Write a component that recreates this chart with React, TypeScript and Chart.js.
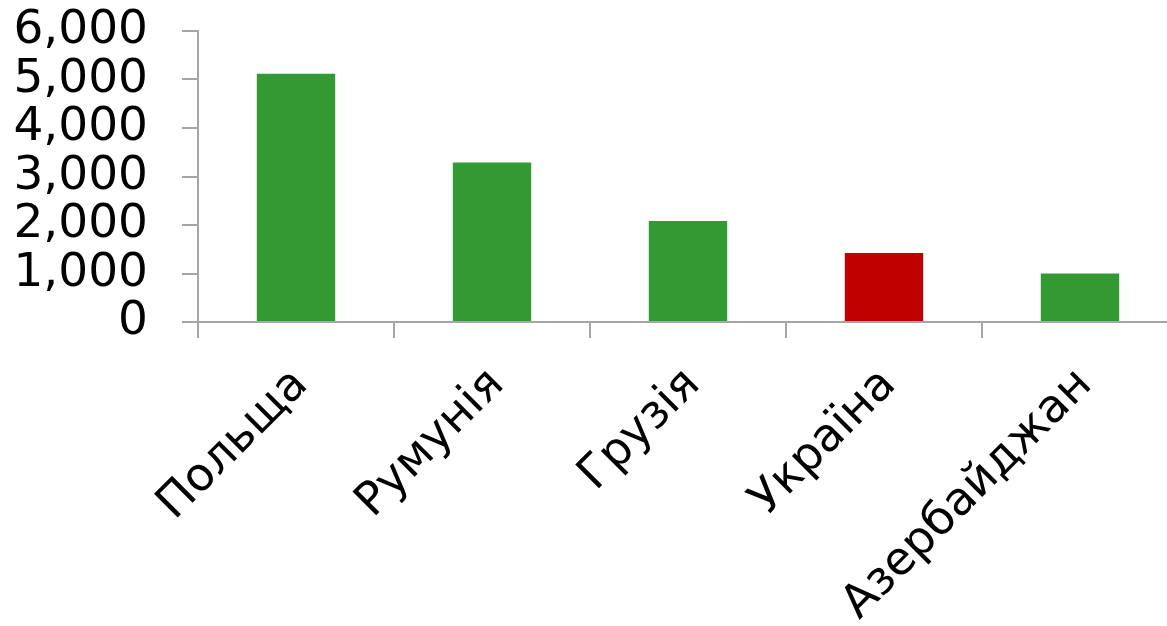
import React, { useEffect, useRef } from "react";
import { Chart, registerables } from "chart.js";

Chart.register(...registerables);

const categories = ["Польща", "Румунія", "Грузія", "Україна", "Азербайджан"];
const values = [5120, 3290, 2080, 1425, 1000];
const barColors = ["#339933", "#339933", "#339933", "#C00000", "#339933"];
const yTicks = [0, 1000, 2000, 3000, 4000, 5000, 6000];

export default function App() {
  const ref = useRef<HTMLCanvasElement | null>(null);

  useEffect(() => {
    if (!ref.current) return;
    const axisColor = "#a6a6a6";
    const chart = new Chart(ref.current, {
      type: "bar",
      data: {
        labels: categories,
        datasets: [
          {
            data: values,
            backgroundColor: barColors,
            borderWidth: 0,
            barPercentage: 0.8,
            categoryPercentage: 0.5,
          },
        ],
      },
      options: {
        animation: false,
        responsive: false,
        devicePixelRatio: 1,
        layout: { padding: { top: 0, right: 2, left: 0, bottom: 0 } },
        plugins: { legend: { display: false }, tooltip: { enabled: false } },
        scales: {
          x: {
            offset: true,
            grid: {
              display: true,
              drawOnChartArea: false,
              offset: true,
              tickLength: 16,
              color: axisColor,
              lineWidth: 2,
            },
            border: { display: true, color: axisColor, width: 2 },
            ticks: {
              color: "#000",
              font: { family: "DejaVu Sans", size: 46 },
              maxRotation: 45,
              minRotation: 45,
              padding: 20,
              labelOffset: 5,
              autoSkip: false,
            },
            afterFit: (scale: any) => {
              scale.height = 304;
              scale.paddingLeft = 0;
              scale.paddingRight = 0;
            },
          },
          y: {
            min: 0,
            max: 6000,
            afterBuildTicks: (scale: any) => {
              scale.ticks = yTicks.map((v) => ({ value: v }));
            },
            grid: {
              display: true,
              drawOnChartArea: false,
              tickLength: 16,
              color: axisColor,
              lineWidth: 2,
            },
            border: { display: true, color: axisColor, width: 2 },
            ticks: {
              color: "#000",
              font: { family: "DejaVu Sans", size: 47, lineHeight: 1.0 },
              padding: 34,
              autoSkip: false,
              callback: (v: any) => Number(v).toLocaleString("en-US"),
            },
            afterFit: (scale: any) => {
              scale.width = 198;
              scale.paddingTop = 31;
              scale.paddingBottom = 0;
            },
          },
        },
      },
    });
    return () => chart.destroy();
  }, []);

  return (
    <div
      style={{
        position: "fixed",
        left: 0,
        top: 0,
        width: 1167,
        height: 626,
        overflow: "hidden",
        background: "#fff",
      }}
    >
      <canvas
        ref={ref}
        width={1180}
        height={626}
        style={{ width: 1180, height: 626, display: "block" }}
      />
    </div>
  );
}
